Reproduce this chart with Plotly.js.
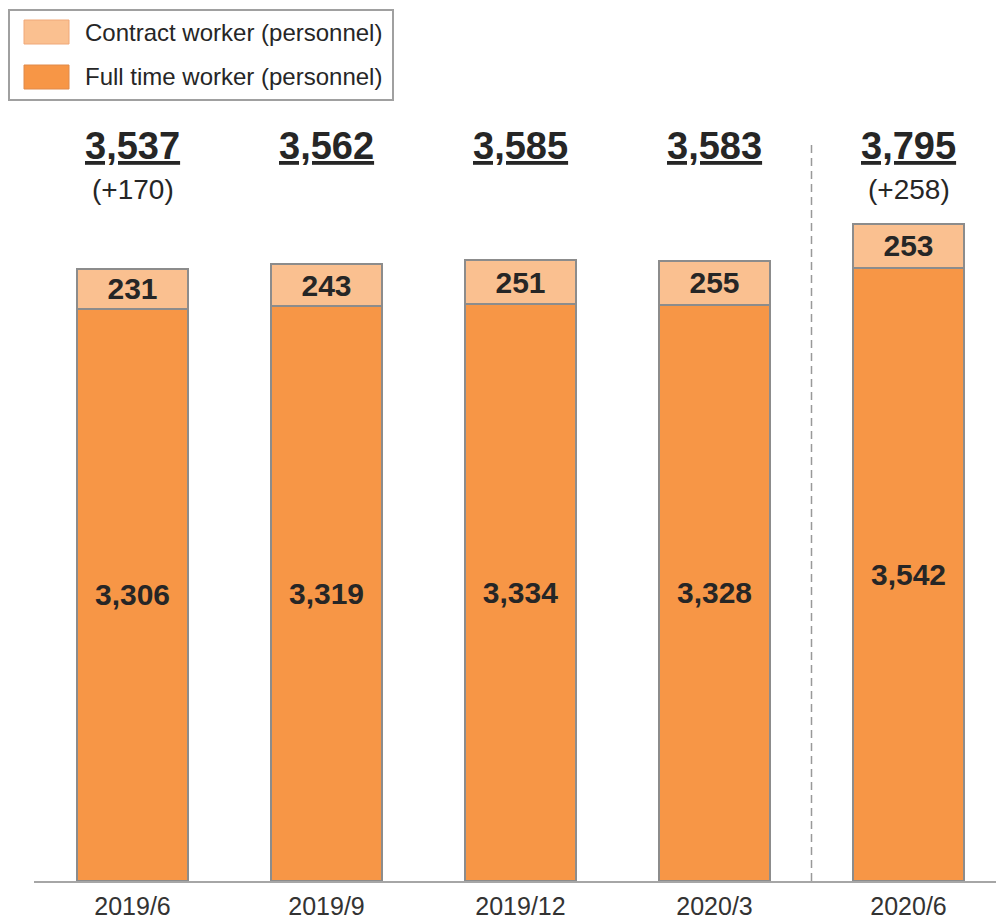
<!DOCTYPE html>
<html>
<head>
<meta charset="utf-8">
<script src="https://cdn.plot.ly/plotly-3.0.1.min.js"></script>
<style>html,body{margin:0;padding:0;background:#fff;}#chart{width:996px;height:924px;}</style>
</head>
<body>
<div id="chart"></div>
<script>
const categories = ['2019/6', '2019/9', '2019/12', '2020/3', '2020/6'];
const fullTime = [3306, 3319, 3334, 3328, 3542];
const contract = [231, 243, 251, 255, 253];
const changeLabels = ['(+170)', '', '', '', '(+258)'];
const seriesNames = ['Contract worker (personnel)', 'Full time worker (personnel)'];
const totals = fullTime.map((v, i) => v + contract[i]);

const W = 996, H = 924;
const M = {l: 34, r: 0, t: 110, b: 43};
const PW = W - M.l - M.r, PH = H - M.t - M.b;
const px = x => (x - M.l) / PW;       // pixel -> paper x
const py = y => (H - M.b - y) / PH;   // pixel -> paper y

const FONT = 'Liberation Sans, Arial, sans-serif';
const TXT = '#262626';
const colFull = '#F79646', colContract = '#FAC090', colEdge = '#8c8c8c';

const traces = [
  {
    type: 'bar', name: seriesNames[1], x: categories, y: fullTime,
    marker: {color: colFull, line: {color: colEdge, width: 2}},
    texttemplate: '%{y:,}', textposition: 'inside', insidetextanchor: 'middle', textangle: 0,
    insidetextfont: {family: FONT, size: 30, color: TXT, weight: 'bold'},
    showlegend: false, hoverinfo: 'skip'
  },
  {
    type: 'bar', name: seriesNames[0], x: categories, y: contract,
    marker: {color: colContract, line: {color: colEdge, width: 2}},
    texttemplate: '%{y:,}', textposition: 'inside', insidetextanchor: 'middle', textangle: 0,
    insidetextfont: {family: FONT, size: 30, color: TXT, weight: 'bold'},
    showlegend: false, hoverinfo: 'skip'
  }
];

const annotations = [];
categories.forEach((c, i) => {
  annotations.push({
    x: c, xref: 'x', y: py(146), yref: 'paper', yanchor: 'middle', xanchor: 'center',
    text: '<b><u>' + totals[i].toLocaleString('en-US') + '</u></b>', showarrow: false,
    font: {family: FONT, size: 38, color: TXT}
  });
  if (changeLabels[i]) {
    annotations.push({
      x: c, xref: 'x', y: py(190), yref: 'paper', yanchor: 'middle', xanchor: 'center',
      text: changeLabels[i], showarrow: false,
      font: {family: FONT, size: 28, color: TXT}
    });
  }
});

// custom legend
const shapes = [
  {type: 'rect', xref: 'paper', yref: 'paper', x0: px(9), x1: px(393), y0: py(10), y1: py(100),
   line: {color: '#a0a0a0', width: 2}, fillcolor: 'rgba(0,0,0,0)'},
  {type: 'rect', xref: 'paper', yref: 'paper', x0: px(24), x1: px(69), y0: py(20), y1: py(44),
   line: {color: '#f0a878', width: 1}, fillcolor: colContract},
  {type: 'rect', xref: 'paper', yref: 'paper', x0: px(24), x1: px(69), y0: py(65), y1: py(89),
   line: {color: '#e08a4a', width: 1}, fillcolor: colFull},
  // separator between fiscal years
  {type: 'line', xref: 'x', yref: 'paper', x0: 3.5, x1: 3.5, y0: 0, y1: py(143),
   line: {color: '#999999', width: 1.5, dash: '8px,5px'}}
];
annotations.push(
  {xref: 'paper', yref: 'paper', x: px(83), y: py(33), xanchor: 'left', yanchor: 'middle',
   text: seriesNames[0], showarrow: false, font: {family: FONT, size: 24, color: TXT}},
  {xref: 'paper', yref: 'paper', x: px(83), y: py(77), xanchor: 'left', yanchor: 'middle',
   text: seriesNames[1], showarrow: false, font: {family: FONT, size: 24, color: TXT}}
);

const layout = {
  width: W, height: H,
  margin: M,
  paper_bgcolor: '#fff', plot_bgcolor: '#fff',
  barmode: 'stack', bargap: 0.43,
  uniformtext: {mode: 'show', minsize: 30},
  showlegend: false,
  xaxis: {
    type: 'category', range: [-0.5 - 1.5 / 194, -0.5 + (PW - 1.5) / 194],
    showline: true, linecolor: '#a6a6a6', linewidth: 2,
    showgrid: false, zeroline: false, ticks: '', ticklabelstandoff: 2,
    tickfont: {family: FONT, size: 25, color: '#333'}
  },
  yaxis: {range: [0, PH / 0.1731], visible: false, fixedrange: true},
  annotations: annotations,
  shapes: shapes
};

Plotly.newPlot('chart', traces, layout, {staticPlot: true, displayModeBar: false});
</script>
</body>
</html>
